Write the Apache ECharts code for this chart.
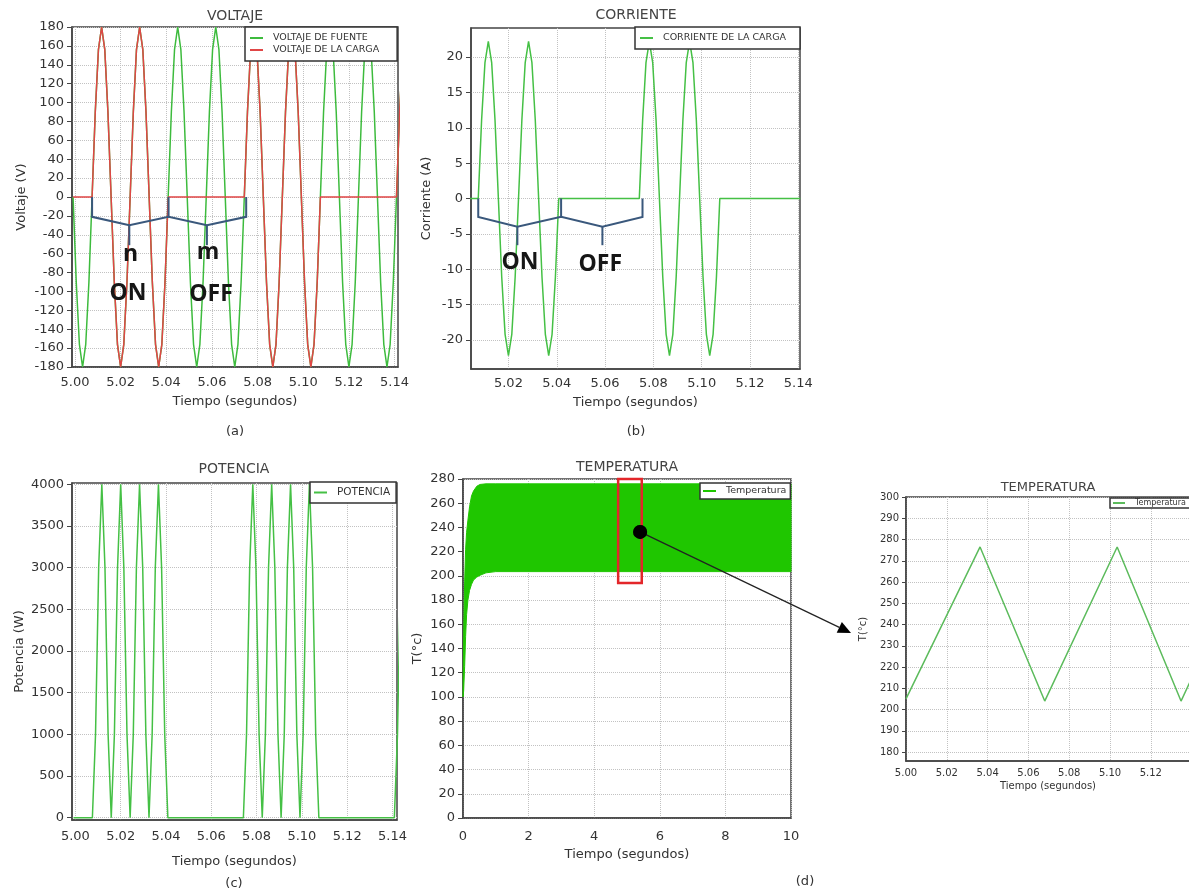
<!DOCTYPE html>
<html><head><meta charset="utf-8">
<script src="https://cdn.jsdelivr.net/npm/echarts@6/dist/echarts.min.js"></script>
<style>html,body{margin:0;padding:0;background:#fff}#c{width:1189px;height:893px}</style>
</head><body><div id="c"></div>
<script>
// ---------- DATA ----------
// simulation sample times (s), one sample every 1/12 of a 60 Hz cycle
const sampleTime = [
4.99917,5.00056,5.00194,5.00333,5.00472,5.00611,5.00750,5.00889,5.01028,5.01167,5.01306,5.01444,
5.01583,5.01722,5.01861,5.02000,5.02139,5.02278,5.02417,5.02556,5.02694,5.02833,5.02972,5.03111,
5.03250,5.03389,5.03528,5.03667,5.03806,5.03944,5.04083,5.04222,5.04361,5.04500,5.04639,5.04778,
5.04917,5.05056,5.05194,5.05333,5.05472,5.05611,5.05750,5.05889,5.06028,5.06167,5.06306,5.06444,
5.06583,5.06722,5.06861,5.07000,5.07139,5.07278,5.07417,5.07556,5.07694,5.07833,5.07972,5.08111,
5.08250,5.08389,5.08528,5.08667,5.08806,5.08944,5.09083,5.09222,5.09361,5.09500,5.09639,5.09778,
5.09917,5.10056,5.10194,5.10333,5.10472,5.10611,5.10750,5.10889,5.11028,5.11167,5.11306,5.11444,
5.11583,5.11722,5.11861,5.12000,5.12139,5.12278,5.12417,5.12556,5.12694,5.12833,5.12972,5.13111,
5.13250,5.13389,5.13528,5.13667,5.13806,5.13944,5.14083,5.14222,5.14361];

const sourceVoltage = [
0,-90,-156,-180,-156,-90,0,90,156,180,156,90,
0,-90,-156,-180,-156,-90,0,90,156,180,156,90,
0,-90,-156,-180,-156,-90,0,90,156,180,156,90,
0,-90,-156,-180,-156,-90,0,90,156,180,156,90,
0,-90,-156,-180,-156,-90,0,90,156,180,156,90,
0,-90,-156,-180,-156,-90,0,90,156,180,156,90,
0,-90,-156,-180,-156,-90,0,90,156,180,156,90,
0,-90,-156,-180,-156,-90,0,90,156,180,156,90,
0,-90,-156,-180,-156,-90,0,90,156];

const loadVoltage = [
0,0,0,0,0,0,0,90,156,180,156,90,
0,-90,-156,-180,-156,-90,0,90,156,180,156,90,
0,-90,-156,-180,-156,-90,0,0,0,0,0,0,
0,0,0,0,0,0,0,0,0,0,0,0,
0,0,0,0,0,0,0,90,156,180,156,90,
0,-90,-156,-180,-156,-90,0,90,156,180,156,90,
0,-90,-156,-180,-156,-90,0,0,0,0,0,0,
0,0,0,0,0,0,0,0,0,0,0,0,
0,0,0,0,0,0,0,90,156];

// current trace ends at 5.1408 s (edge of its panel)
const loadCurrent = [
0,0,0,0,0,0,0,11.1,19.2,22.2,19.2,11.1,
0,-11.1,-19.2,-22.2,-19.2,-11.1,0,11.1,19.2,22.2,19.2,11.1,
0,-11.1,-19.2,-22.2,-19.2,-11.1,0,0,0,0,0,0,
0,0,0,0,0,0,0,0,0,0,0,0,
0,0,0,0,0,0,0,11.1,19.2,22.2,19.2,11.1,
0,-11.1,-19.2,-22.2,-19.2,-11.1,0,11.1,19.2,22.2,19.2,11.1,
0,-11.1,-19.2,-22.2,-19.2,-11.1,0,0,0,0,0,0,
0,0,0,0,0,0,0,0,0,0,0,0,
0,0,0,0,0,0,0];

const loadPower = [
0,0,0,0,0,0,0,1000,3000,4000,3000,1000,
0,1000,3000,4000,3000,1000,0,1000,3000,4000,3000,1000,
0,1000,3000,4000,3000,1000,0,0,0,0,0,0,
0,0,0,0,0,0,0,0,0,0,0,0,
0,0,0,0,0,0,0,1000,3000,4000,3000,1000,
0,1000,3000,4000,3000,1000,0,1000,3000,4000,3000,1000,
0,1000,3000,4000,3000,1000,0,0,0,0,0,0,
0,0,0,0,0,0,0,0,0,0,0,0,
0,0,0,0,0,0,0,1000,3000];

// temperature 0-10 s: envelope of the fast oscillation
const tempTime  = [0, 0.02, 0.05, 0.08, 0.11, 0.15, 0.2, 0.26, 0.32, 0.42, 0.52, 0.7, 1.0, 10];
const tempUpper = [100, 150, 195, 222, 236, 246, 257, 266, 270, 274, 275.5, 276, 276, 276];
const tempLower = [100, 105, 125, 150, 168, 180, 188, 193, 196.5, 199, 200.5, 202.5, 203.5, 203.5];

// temperature detail 5.00-5.14 s
const zoomTime = [5.000, 5.0363, 5.068, 5.1035, 5.1348, 5.1392];
const zoomTemp = [205, 276.5, 204, 276.5, 204, 213];

// tick labels
const ticks5 = [5.00, 5.02, 5.04, 5.06, 5.08, 5.10, 5.12, 5.14];
const ticksZoomLbl = [5.00, 5.02, 5.04, 5.06, 5.08, 5.10, 5.12];
const ticksCurrent = [-20, -15, -10, -5, 0, 5, 10, 15, 20];
const ticksPower = [0, 500, 1000, 1500, 2000, 2500, 3000, 3500, 4000];
const ticksZoomT = [180, 190, 200, 210, 220, 230, 240, 250, 260, 270, 280, 290, 300];

// annotations
const bracketA = [
  [[5.0075,0],[5.0075,-21],[5.0238,-30],[5.0410,-21],[5.0578,-30],[5.0750,-21],[5.0750,0]],
  [[5.0410,-21],[5.0410,0]], [[5.0238,-30],[5.0238,-51]], [[5.0578,-30],[5.0578,-51]]];
const labelsA = [['n',5.0243,-61],['ON',5.0232,-102],['m',5.0583,-59],['OFF',5.0596,-103]];
const bracketB = [
  [[5.0075,0],[5.0075,-2.6],[5.0237,-4],[5.0418,-2.6],[5.0589,-4],[5.0755,-2.6],[5.0755,0]],
  [[5.0418,-2.6],[5.0418,0]], [[5.0237,-4],[5.0237,-6.6]], [[5.0589,-4],[5.0589,-6.6]]];
const labelsB = [['ON',5.0248,-9.0],['OFF',5.0580,-9.3]];
const zoomBox = [[4.73,194],[5.45,280]];
const zoomDot = [5.40, 236.3];

// ---------- CHART ----------
const FONT = 'DejaVu Sans';
const pairs = (xs, ys) => ys.map((y, i) => [xs[i], y]);
const fmt2 = v => Number(v).toFixed(2);
const fmt0 = v => String(v);

function gridDef(l, t, w, h) {
  return {left: l, top: t, width: w, height: h, show: true, borderColor: '#444', borderWidth: 1.5,
          containLabel: false, outerBoundsMode: 'none'};
}
const split = {show: true, lineStyle: {color: '#c2c2c2', type: 'dotted', width: 1}};
function xAx(gi, min, max, o) {
  o = o || {};
  const a = {type: 'value', gridIndex: gi, min, max,
    name: 'Tiempo (segundos)', nameLocation: 'middle', nameGap: o.nameGap || 28, nameMoveOverlap: false,
    nameTextStyle: {fontFamily: FONT, fontSize: o.nameSize || 13, color: '#333'},
    axisLine: {show: true, onZero: false, lineStyle: {color: '#444', width: 1.5}},
    axisTick: {show: false},
    axisLabel: {fontFamily: FONT, fontSize: o.lblSize || 13, color: '#333', margin: o.margin || 9,
                formatter: o.formatter || fmt2},
    splitLine: split};
  if (o.interval) a.interval = o.interval;
  if (o.ticks) { a.axisTick.customValues = o.ticks; a.axisLabel.customValues = o.labels || o.ticks; }
  return a;
}
function yAx(gi, min, max, name, o) {
  o = o || {};
  const a = {type: 'value', gridIndex: gi, min, max, name, nameLocation: 'middle', nameGap: o.nameGap,
    nameMoveOverlap: false,
    nameTextStyle: {fontFamily: FONT, fontSize: o.nameSize || 13, color: '#333'},
    axisLine: {show: true, onZero: false, lineStyle: {color: '#444', width: 1.5}},
    axisTick: {show: true, inside: false, length: o.tickLen || 5, lineStyle: {color: '#444'}},
    axisLabel: {fontFamily: FONT, fontSize: o.lblSize || 13, color: '#333', margin: o.margin || 8, formatter: fmt0},
    splitLine: split};
  if (o.interval) a.interval = o.interval;
  if (o.ticks) { a.axisTick.customValues = o.ticks; a.axisLabel.customValues = o.ticks; }
  return a;
}
function legendDef(l, t, names, fs, pad, extra) {
  return Object.assign({left: l, top: t, orient: 'vertical', data: names, icon: 'rect',
    itemWidth: 13, itemHeight: 2, itemGap: 2, padding: pad, backgroundColor: '#fff',
    borderColor: '#333', borderWidth: 1.5, selectedMode: false,
    textStyle: {fontFamily: FONT, fontSize: fs, color: '#333', padding: [0, 0, 0, 5]}}, extra || {});
}
const lineS = (name, xi, data, color, z) => ({type: 'line', name, xAxisIndex: xi, yAxisIndex: xi,
  data, symbol: 'none', color, lineStyle: {color, width: 1.5}, z: z || 2, animation: false});
const bracketS = (xi, polys) => ({type: 'lines', coordinateSystem: 'cartesian2d', xAxisIndex: xi, yAxisIndex: xi,
  polyline: true, silent: true, z: 6, animation: false,
  lineStyle: {color: '#3a587c', width: 2, opacity: 1},
  data: polys.map(c => ({coords: c}))});

const txt = (s, x, y, size, color) => ({type: 'text', x, y, silent: true,
  style: {text: s, fontFamily: FONT, fontSize: size, fill: color || '#444', align: 'center', verticalAlign: 'middle'}});
const titles = [
  txt('VOLTAJE', 235, 16, 14), txt('CORRIENTE', 636, 15, 14), txt('POTENCIA', 234, 469, 14),
  txt('TEMPERATURA', 627, 467, 14), txt('TEMPERATURA', 1048, 488, 13),
  txt('(a)', 235, 432, 13, '#333'), txt('(b)', 636, 432, 13, '#333'),
  txt('(c)', 234, 884, 13, '#333'), txt('(d)', 805, 882, 13, '#333')];

const GREEN = '#3dbb3d', RED = '#e04646', BAND = '#1fc600';

const option = {
  animation: false,
  backgroundColor: '#fff',
  grid: [gridDef(72, 27, 326, 340), gridDef(471, 28, 329, 341), gridDef(72, 483, 325, 337),
         gridDef(463, 479, 328, 339), gridDef(906, 497, 284, 264)],
  xAxis: [
    xAx(0, 4.9987, 5.1415, {ticks: ticks5, nameGap: 28, margin: 9}),
    xAx(1, 5.0045, 5.1407, {ticks: ticks5, nameGap: 27, margin: 8}),
    xAx(2, 4.9985, 5.1420, {ticks: ticks5, nameGap: 35, margin: 10}),
    xAx(3, 0, 10, {interval: 2, formatter: fmt0, nameGap: 30, margin: 12}),
    xAx(4, 5.0, 5.1392, {ticks: ticksZoomLbl, nameGap: 20, margin: 7, lblSize: 10, nameSize: 10})
  ],
  yAxis: [
    yAx(0, -180, 180, 'Voltaje (V)', {interval: 20, nameGap: 44}),
    yAx(1, -24.1, 24.1, 'Corriente (A)', {ticks: ticksCurrent, nameGap: 38}),
    yAx(2, -27, 4015, 'Potencia (W)', {ticks: ticksPower, nameGap: 46}),
    yAx(3, 0, 280, 'T(°c)', {interval: 20, nameGap: 39}),
    yAx(4, 175.8, 300, 'T(°c)', {ticks: ticksZoomT, nameGap: 38, lblSize: 10, nameSize: 10, tickLen: 4, margin: 7})
  ],
  legend: [
    legendDef(245, 27, ['VOLTAJE DE FUENTE', 'VOLTAJE DE LA CARGA'], 9.5, [6, 18, 6, 5]),
    legendDef(635, 27, ['CORRIENTE DE LA CARGA'], 9.5, [6, 14, 6, 5]),
    legendDef(310, 482, ['POTENCIA'], 10.5, [5, 6, 5, 4]),
    legendDef(700, 483, ['Temperatura'], 9.5, [3, 4, 3, 3]),
    legendDef(1110, 498, ['TemperaturaZoom'], 8, [1, 10, 1, 3], {formatter: () => 'Temperatura', itemWidth: 12})
  ],
  series: [
    lineS('VOLTAJE DE FUENTE', 0, pairs(sampleTime, sourceVoltage), GREEN, 2),
    lineS('VOLTAJE DE LA CARGA', 0, pairs(sampleTime, loadVoltage), RED, 3),
    lineS('CORRIENTE DE LA CARGA', 1, pairs(sampleTime, loadCurrent), '#45c045', 2),
    lineS('POTENCIA', 2, pairs(sampleTime, loadPower), '#45c045', 2),
    {type: 'custom', name: 'Temperatura', coordinateSystem: 'cartesian2d', xAxisIndex: 3, yAxisIndex: 3,
     data: pairs(tempTime, tempUpper), encode: {x: 0, y: 1}, itemStyle: {color: BAND}, z: 2, silent: true,
     renderItem: (params, api) => {
       if (params.dataIndex !== 0) return null;
       const pts = [];
       for (let i = 0; i < tempTime.length; i++) pts.push(api.coord([tempTime[i], tempUpper[i]]));
       for (let i = tempTime.length - 1; i >= 0; i--) pts.push(api.coord([tempTime[i], tempLower[i]]));
       return {type: 'polygon', shape: {points: pts}, style: {fill: BAND, stroke: BAND, lineWidth: 1}};
     }},
    {type: 'scatter', name: 'dot', xAxisIndex: 3, yAxisIndex: 3, data: [zoomDot], symbolSize: 14,
     itemStyle: {color: '#000'}, z: 12, silent: true,
     markArea: {silent: true, z: 5, itemStyle: {color: 'rgba(0,0,0,0)', borderColor: '#e3262a', borderWidth: 2.5},
                data: [[{coord: zoomBox[0]}, {coord: zoomBox[1]}]]}},
    lineS('TemperaturaZoom', 4, pairs(zoomTime, zoomTemp), '#5cbb5c', 2),
    bracketS(0, bracketA),
    bracketS(1, bracketB)
  ],
  graphic: titles
};

const chart = echarts.init(document.getElementById('c'), null, {renderer: 'canvas'});
chart.setOption(option);

// ON / OFF annotation texts placed at data coordinates
const annot = [];
const addLabels = (gi, items) => items.forEach(d => {
  const p = chart.convertToPixel({gridIndex: gi}, [d[1], d[2]]);
  annot.push({type: 'text', x: p[0], y: p[1], silent: true, z: 30,
    style: {text: d[0], fontFamily: 'Open Sans', fontWeight: 'bold', fontSize: 23, fill: '#161616',
            align: 'center', verticalAlign: 'middle'}});
});
addLabels(0, labelsA);
addLabels(1, labelsB);

// black dot drawn over the red frame, plus arrow to the detail panel
const p0 = chart.convertToPixel({gridIndex: 3}, zoomDot);
const tip = [851, 633];
const dx = tip[0] - p0[0], dy = tip[1] - p0[1], L = Math.hypot(dx, dy);
const ux = dx / L, uy = dy / L, px = -uy, py = ux;
const base = [tip[0] - 13 * ux, tip[1] - 13 * uy];
const arrow = [
  {type: 'line', silent: true, z: 20, shape: {x1: p0[0], y1: p0[1], x2: base[0], y2: base[1]},
   style: {stroke: '#222', lineWidth: 1.2}},
  {type: 'polygon', silent: true, z: 20,
   shape: {points: [tip, [base[0] + 6 * px, base[1] + 6 * py], [base[0] - 6 * px, base[1] - 6 * py]]},
   style: {fill: '#000'}},
  {type: 'circle', silent: true, z: 21, shape: {cx: p0[0], cy: p0[1], r: 7}, style: {fill: '#000'}}
];
chart.setOption({graphic: titles.concat(annot, arrow)});
</script></body></html>
